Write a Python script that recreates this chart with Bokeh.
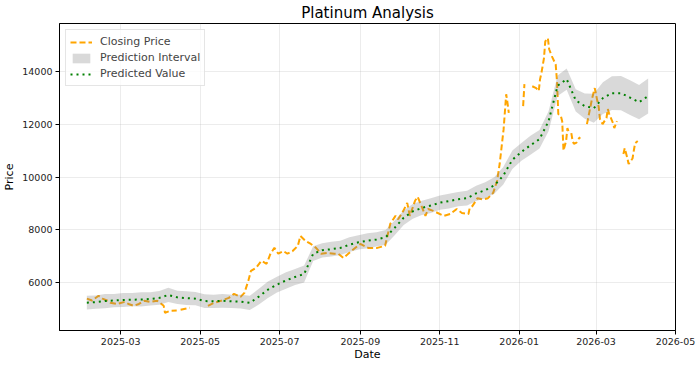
import pandas as pd
from bokeh.plotting import figure
from bokeh.models import (Range1d, FixedTicker, MonthsTicker, DatetimeTickFormatter,
                          Legend, LegendItem)
from bokeh.embed import file_html
from bokeh.resources import INLINE

# ---------------- data ----------------
close_dates = [
    "2025-02-03", "2025-02-07", "2025-02-12", "2025-02-15", "2025-02-19", "2025-02-21", "2025-02-26",
    "2025-03-04", "2025-03-07", "2025-03-11", "2025-03-15", "2025-03-19", "2025-03-24", "2025-03-29", "2025-03-31",
    "2025-04-03", "2025-04-04", "2025-04-08", "2025-04-13", "2025-04-14", "2025-04-16", "2025-04-23", "2025-04-30",
    "2025-05-07", "2025-05-12", "2025-05-17", "2025-05-23", "2025-05-27",
    "2025-06-01", "2025-06-04", "2025-06-07", "2025-06-09", "2025-06-13", "2025-06-17", "2025-06-21", "2025-06-24",
    "2025-06-27", "2025-06-30",
    "2025-07-04", "2025-07-07", "2025-07-11", "2025-07-15", "2025-07-17", "2025-07-21", "2025-07-25", "2025-07-29",
    "2025-08-02", "2025-08-07", "2025-08-12", "2025-08-15", "2025-08-19", "2025-08-25",
    "2025-09-01", "2025-09-07", "2025-09-14", "2025-09-20", "2025-09-24", "2025-09-28", "2025-09-30",
    "2025-10-04", "2025-10-07", "2025-10-09", "2025-10-13", "2025-10-15", "2025-10-18", "2025-10-21", "2025-10-23",
    "2025-10-27",
    "2025-11-04", "2025-11-09", "2025-11-14", "2025-11-18", "2025-11-23", "2025-11-24", "2025-11-26", "2025-11-30",
    "2025-12-04", "2025-12-08", "2025-12-12", "2025-12-15", "2025-12-17", "2025-12-20", "2025-12-22", "2025-12-23",
    "2025-12-24", "2025-12-29",
    "2026-01-04", "2026-01-05", "2026-01-08", "2026-01-11", "2026-01-14", "2026-01-16", "2026-01-17", "2026-01-18",
    "2026-01-20", "2026-01-21", "2026-01-23", "2026-01-24", "2026-01-26", "2026-01-29", "2026-01-30", "2026-01-31",
    "2026-02-02", "2026-02-03", "2026-02-04", "2026-02-06", "2026-02-07", "2026-02-08", "2026-02-09", "2026-02-10",
    "2026-02-11", "2026-02-12", "2026-02-14", "2026-02-16", "2026-02-17", "2026-02-19", "2026-02-22", "2026-02-24",
    "2026-02-26", "2026-02-28",
    "2026-03-02", "2026-03-03", "2026-03-04", "2026-03-06", "2026-03-09", "2026-03-10", "2026-03-11", "2026-03-14",
    "2026-03-15", "2026-03-17", "2026-03-19", "2026-03-22", "2026-03-23", "2026-03-25", "2026-03-26", "2026-03-29",
    "2026-03-30", "2026-03-31", "2026-04-02",
]
NA = float("nan")
close_values = [
    5400, 5330, 5510, 5400, 5320, 5250, 5200,
    5280, 5200, 5130, 5200, 5320, 5280, 5320, 5250,
    5130, 4870, 4940, 4950, NA, 4980, 5060, NA,
    5130, 5250, 5320, 5430, 5580,
    5470, 5620, 6075, 6450, 6570, 6830, 6720, 7100,
    7320, 7100,
    7200, 7100, 7200, 7400, 7770, 7580, 7470, 7320,
    7100, 7130, 7100, 7100, 6940, 7200,
    7470, 7320, 7320, 7400, 8230, 8530, 8400,
    8720, 9020, 8530, 9100, 9250, 8900, 8530, 8790,
    8720,
    8530, 8600, 8790, 8640, 8600, 8830, 8900, 9200,
    9150, 9200, 9400, 9850, 10500, 11800, 13130, 12800,
    12420, NA,
    12680, 13510, NA, 13430, 13360, 13250, 13700, 13920,
    14490, 15130, 15250, 14830, 14570, 14260, 13620, 12380,
    12300, 12110, 11000, 11360, 11850, 11700, NA, 11660,
    11360, 11250, 11300, 11470, 11500, NA, 12000, 12490,
    12980, 13360,
    12870, 12650, 12190, 12000, 12230, 12570, 12400, 12040,
    11850, 12110, NA, 10870, 11090, 10720, 10490, 10700,
    11000, 11280, 11360,
]

pred_start, pred_end, pred_count = "2025-02-03", "2026-04-10", 63
pred_values = [
    5250, 5270, 5310, 5330, 5350, 5360, 5370, 5390, 5430, 5540,
    5450, 5420, 5400, 5310, 5300, 5320, 5300, 5290, 5240, 5480,
    5740, 5930, 6090, 6220, 6330, 7100, 7230, 7270, 7320, 7440,
    7530, 7590, 7640, 7720, 8080, 8460, 8700, 8830, 8920, 9030,
    9090, 9160, 9200, 9380, 9500, 9680, 10050, 10650, 10950, 11200,
    11430, 12110, 13450, 13700, 12900, 12680, 12600, 12980, 13170, 13170,
    13000, 12830, 13060,
]
pred_lower = [
    4990, 5020, 5040, 5080, 5090, 5110, 5100, 5140, 5170, 5270,
    5200, 5160, 5150, 5050, 5050, 5060, 5050, 5030, 4970, 5180,
    5430, 5630, 5780, 5920, 6010, 6820, 6960, 6990, 7050, 7160,
    7260, 7310, 7370, 7440, 7800, 8190, 8420, 8560, 8640, 8760,
    8810, 8890, 8920, 9090, 9200, 9370, 9720, 10300, 10610, 10840,
    11080, 11730, 13060, 13300, 12480, 12200, 12050, 12380, 12530, 12520,
    12340, 12180, 12400,
]
pred_upper = [
    5510, 5520, 5580, 5580, 5610, 5610, 5640, 5640, 5690, 5810,
    5700, 5680, 5650, 5570, 5550, 5580, 5550, 5550, 5510, 5780,
    6050, 6230, 6400, 6520, 6650, 7380, 7500, 7550, 7590, 7720,
    7800, 7870, 7910, 8000, 8360, 8730, 8980, 9100, 9200, 9300,
    9370, 9430, 9480, 9670, 9800, 9990, 10380, 11000, 11290, 11560,
    11780, 12490, 13840, 14100, 13320, 13160, 13150, 13580, 13810, 13820,
    13660, 13480, 13720,
]

y_ticks = [6000, 8000, 10000, 12000, 14000]
x_start, x_end = "2025-01-13", "2026-05-01"
y_start, y_end = 4197, 15803

# ---------------- figure ----------------
close_x = pd.to_datetime(close_dates)
pred_x = pd.date_range(pred_start, pred_end, periods=pred_count)

FONT = "DejaVu Sans"
p = figure(width=700, height=363, x_axis_type="datetime", output_backend="svg",
           toolbar_location=None,
           x_range=Range1d(pd.Timestamp(x_start), pd.Timestamp(x_end)),
           y_range=Range1d(y_start, y_end),
           min_border_left=0, min_border_right=25, min_border_top=0, min_border_bottom=0)

p.title.text = "Platinum Analysis"
p.title.align = "center"
p.title.text_font = FONT
p.title.text_font_size = "15px"
p.title.text_font_style = "normal"
p.title.text_color = "black"
p.title.standoff = 3

p.xaxis.ticker = MonthsTicker(months=[0, 2, 4, 6, 8, 10])
p.xaxis.formatter = DatetimeTickFormatter(days="%Y-%m", months="%Y-%m", years="%Y-%m")
p.yaxis.ticker = FixedTicker(ticks=y_ticks)
p.xaxis.axis_label = "Date"
p.yaxis.axis_label = "Price"

for ax in (p.xaxis, p.yaxis):
    ax.major_tick_in = 0
    ax.major_tick_out = 4
    ax.minor_tick_in = 0
    ax.minor_tick_out = 0
    ax.axis_line_color = "black"
    ax.major_tick_line_color = "black"
    ax.major_label_text_font = FONT
    ax.major_label_text_font_size = "9.5px"
    ax.major_label_text_color = "#222222"
    ax.axis_label_text_font = FONT
    ax.axis_label_text_font_size = "11px"
    ax.axis_label_text_font_style = "normal"
    ax.axis_label_text_color = "black"
    ax.major_label_standoff = 3
p.xaxis.axis_label_standoff = 0
p.yaxis.axis_label_standoff = 3

p.outline_line_color = "black"
p.outline_line_alpha = 1
p.outline_line_width = 1
p.grid.grid_line_color = "#b0b0b0"
p.grid.grid_line_alpha = 0.3
p.grid.grid_line_width = 0.8

r_close = p.line(close_x, close_values, line_color="orange", line_width=2, line_dash="6 3")
r_band = p.varea(x=pred_x, y1=pred_lower, y2=pred_upper, fill_color="gray", fill_alpha=0.3)
r_pred = p.line(pred_x, pred_values, line_color="green", line_width=2, line_dash="2 4")

legend = Legend(items=[
    LegendItem(label="Closing Price", renderers=[r_close]),
    LegendItem(label="Prediction Interval", renderers=[r_band]),
    LegendItem(label="Predicted Value", renderers=[r_pred]),
], location="top_left")
legend.label_text_font = FONT
legend.label_text_font_size = "11px"
legend.glyph_width = 22
legend.glyph_height = 12
legend.label_height = 15
legend.label_standoff = 8
legend.spacing = 1
legend.padding = 4
legend.margin = 6
legend.border_line_color = "#cccccc"
legend.border_line_width = 1
legend.background_fill_alpha = 0.8
p.add_layout(legend)

open("out.html", "w").write(file_html(p, INLINE))
